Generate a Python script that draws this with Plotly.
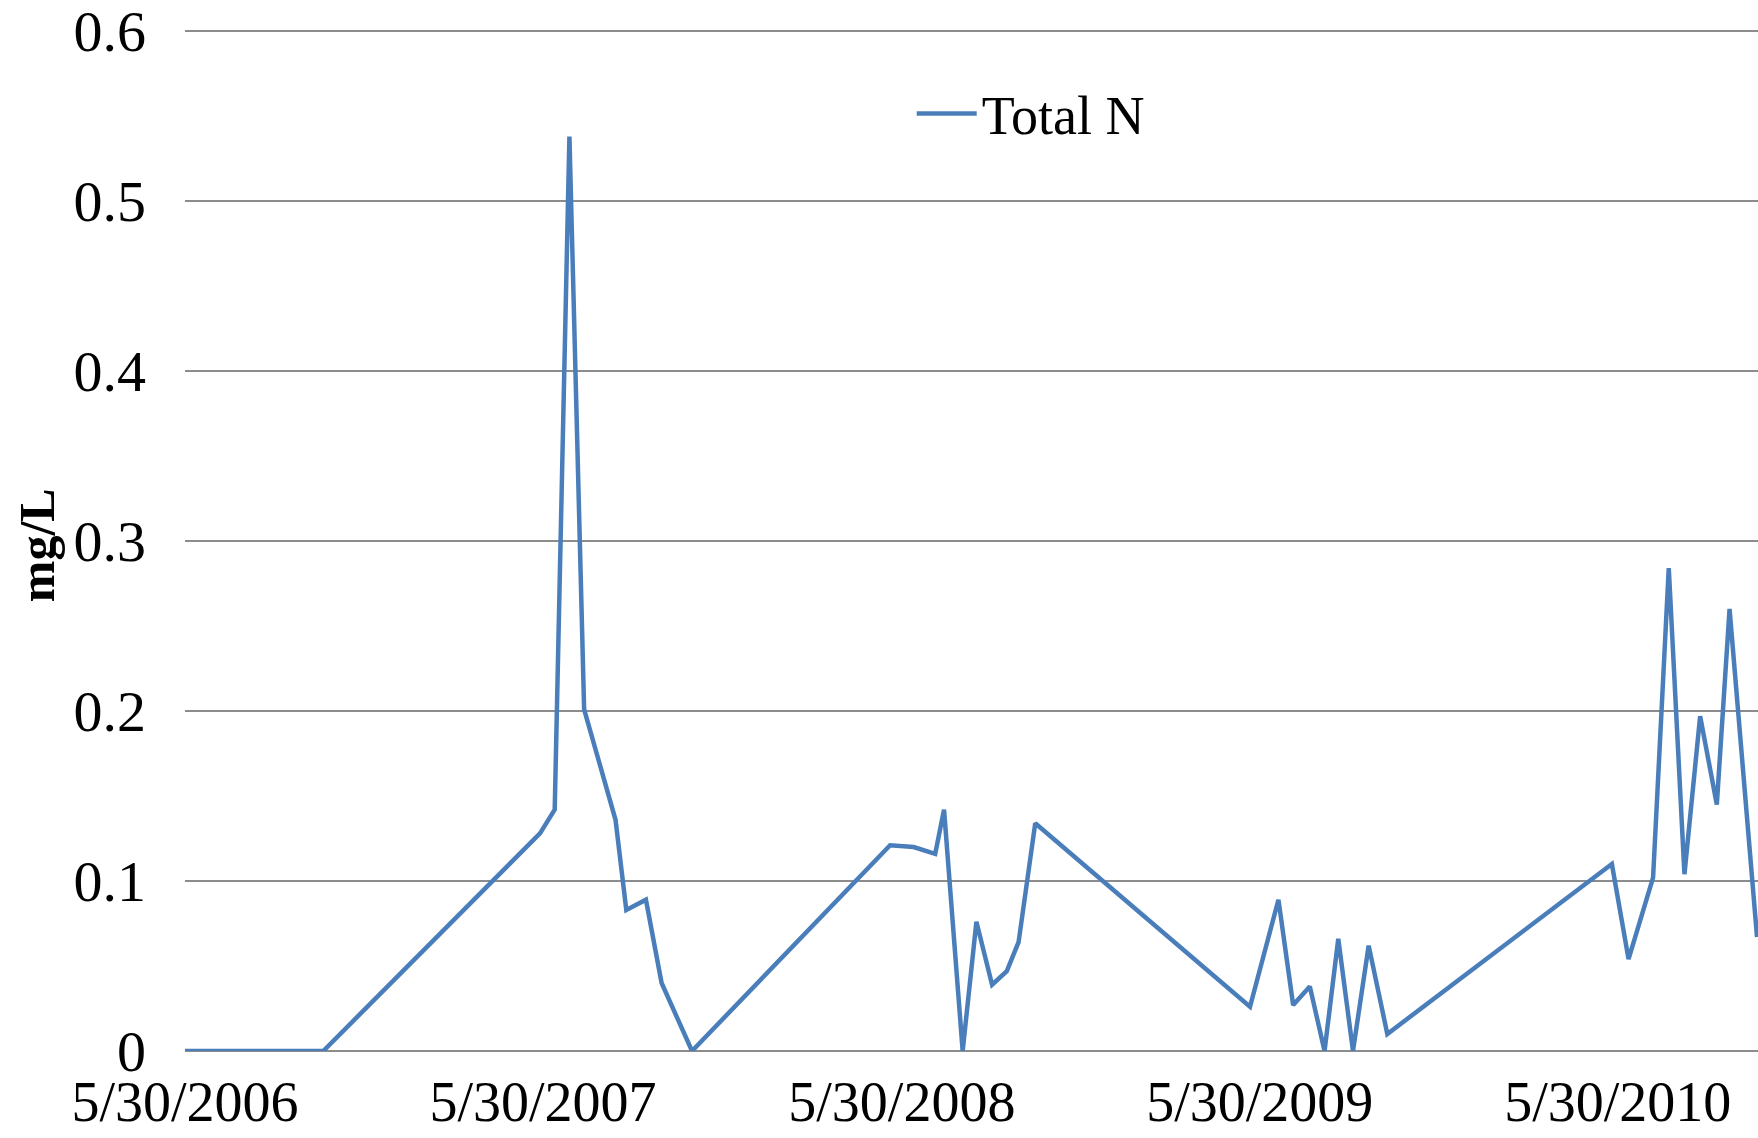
import plotly.graph_objects as go

# ---- data ----
dates = [
    "2006-05-30", "2006-07-09", "2006-08-24", "2006-10-18",
    "2007-05-27", "2007-06-11", "2007-06-26", "2007-07-11", "2007-08-12",
    "2007-08-23", "2007-09-12", "2007-09-28", "2007-10-29",
    "2008-05-18", "2008-06-11", "2008-07-03", "2008-07-12", "2008-07-31",
    "2008-08-14", "2008-08-30", "2008-09-14", "2008-09-26", "2008-10-13",
    "2009-05-20", "2009-06-18", "2009-07-03", "2009-07-20", "2009-08-04",
    "2009-08-18", "2009-09-02", "2009-09-18", "2009-10-07",
    "2010-05-24", "2010-06-10", "2010-07-05", "2010-07-21", "2010-08-06",
    "2010-08-22", "2010-09-08", "2010-09-21", "2010-10-19",
]
total_n = [
    0.0, 0.0, 0.0, 0.0,
    0.128, 0.142, 0.538, 0.201, 0.136,
    0.083, 0.089, 0.040, 0.0,
    0.121, 0.120, 0.116, 0.142, 0.0,
    0.076, 0.039, 0.047, 0.064, 0.134,
    0.026, 0.089, 0.027, 0.038, 0.0,
    0.066, 0.0, 0.062, 0.010,
    0.110, 0.054, 0.102, 0.284, 0.104,
    0.197, 0.145, 0.260, 0.067,
]
tick_dates = ["2006-05-30", "2007-05-30", "2008-05-30", "2009-05-30", "2010-05-30"]
tick_labels = ["5/30/2006", "5/30/2007", "5/30/2008", "5/30/2009", "5/30/2010"]
y_ticks = [0, 0.1, 0.2, 0.3, 0.4, 0.5, 0.6]
y_labels = ["0", "0.1", "0.2", "0.3", "0.4", "0.5", "0.6"]
series_name = "Total N"
y_title = "mg/L"

FONT = "Liberation Serif"
GRID = "#8c8c8c"

fig = go.Figure()
fig.add_trace(go.Scatter(
    x=dates, y=total_n, mode="lines", name=series_name,
    line=dict(color="#4a7ebb", width=4.5),
))

fig.update_layout(
    width=1758, height=1138,
    margin=dict(l=185, r=0, t=29, b=87, autoexpand=False),
    paper_bgcolor="white", plot_bgcolor="white",
    font=dict(family=FONT, color="black", size=56),
    showlegend=True,
    legend=dict(
        x=0.462, y=0.917, xanchor="left", yanchor="middle",
        bgcolor="rgba(0,0,0,0)", font=dict(family=FONT, size=54, color="black"),
        itemwidth=60,
    ),
    annotations=[dict(
        text="<b>" + y_title + "</b>", textangle=-90,
        xref="paper", yref="paper", x=-0.094, y=0.495,
        xanchor="center", yanchor="middle", showarrow=False,
        font=dict(family=FONT, size=50, color="black"),
    )],
)
fig.update_xaxes(
    type="date", range=["2006-05-30", "2010-10-20"],
    tickmode="array", tickvals=tick_dates, ticktext=tick_labels,
    showgrid=False, showline=False, zeroline=False, ticks="",
    tickfont=dict(family=FONT, size=56, color="black"),
    ticklabelstandoff=13, ticklabeloverflow="allow", automargin=False,
)
fig.update_yaxes(
    range=[0, 0.6012], tickmode="array", tickvals=y_ticks, ticktext=y_labels,
    showgrid=True, gridcolor=GRID, gridwidth=1.5,
    zeroline=True, zerolinecolor=GRID, zerolinewidth=1.5,
    showline=False, ticks="",
    tickfont=dict(family=FONT, size=58, color="black"),
    ticklabelstandoff=38, ticklabeloverflow="allow", automargin=False,
)

# remove the default 8px page margin so the figure fills the window exactly
fig.write_html(
    "out.html",
    config={"displayModeBar": False},
    post_script="document.body.style.margin='0';",
)
